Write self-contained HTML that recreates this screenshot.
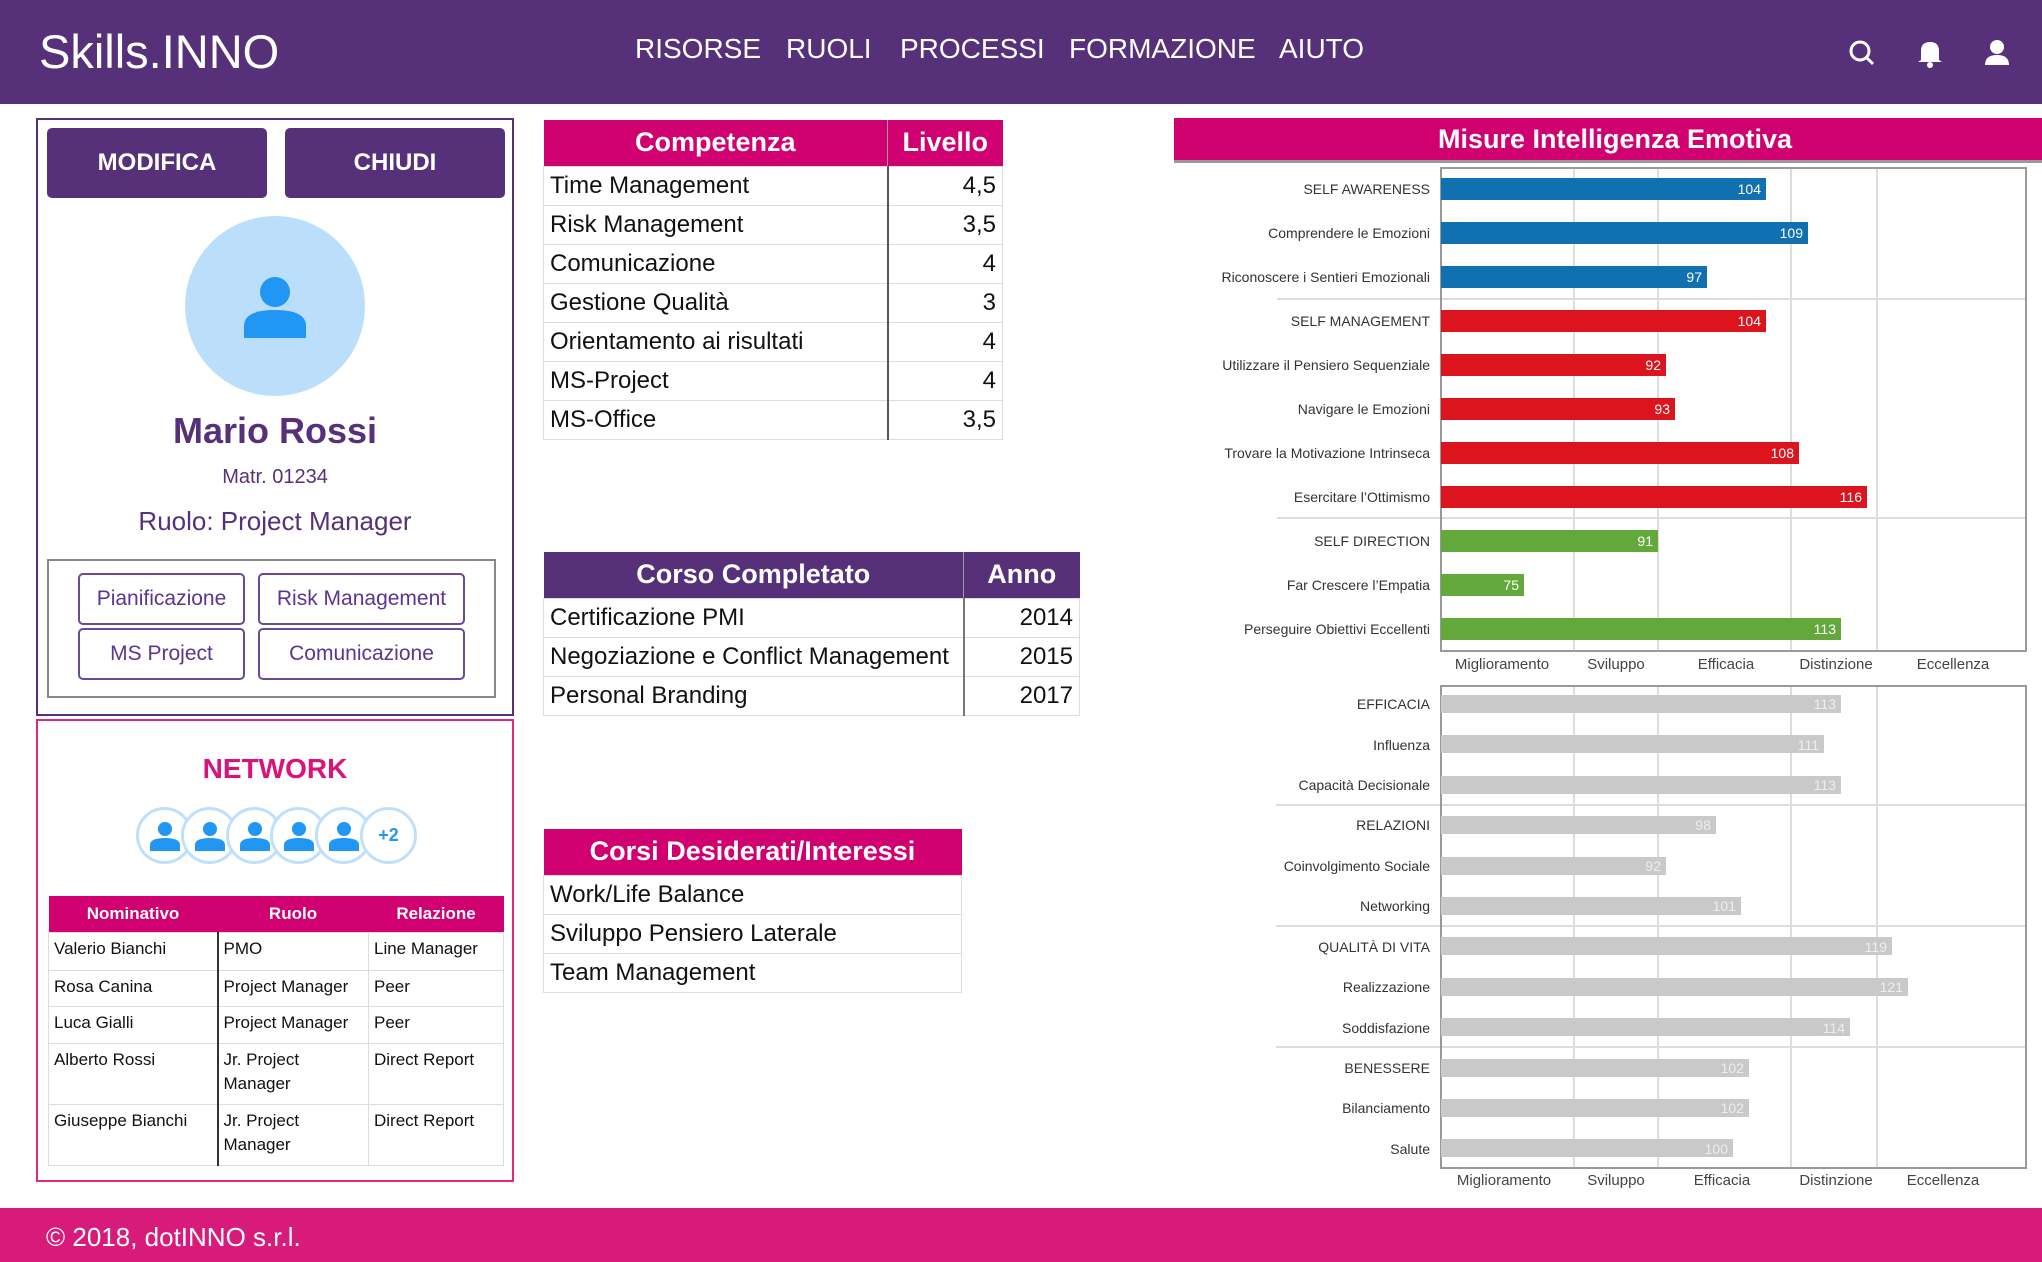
<!DOCTYPE html>
<html><head><meta charset="utf-8"><style>
*{margin:0;padding:0;box-sizing:border-box}
body{width:2042px;height:1262px;position:relative;background:#fff;font-family:"Liberation Sans",sans-serif;overflow:hidden}
.a{position:absolute}
.hdr{left:0;top:0;width:2042px;height:104px;background:#56317a}
.nav{color:#fff;font-size:28px;top:33px}
.btn{background:#56317a;color:#fff;font-weight:bold;font-size:24px;border-radius:5px;display:flex;align-items:center;justify-content:center}
.tag{border:2px solid #6a4a94;border-radius:5px;color:#5b3590;font-size:21px;display:flex;align-items:center;justify-content:center}
table{border-collapse:collapse;position:absolute}
td,th{border:1px solid #ddd}
.t td{font-size:24px;height:39px;padding:0 6px;color:#111}
.t th{color:#fff;font-size:27px;height:46px;font-weight:bold;border:none}
.n td{font-size:17px;padding:4px 5px;vertical-align:top;color:#111;line-height:24px}
.n th{background:#d10070;color:#fff;font-size:17px;height:36px;border:none}
.av{width:57px;height:57px;border-radius:50%;border:3px solid #bfe0fb;background:#fff;display:flex;align-items:center;justify-content:center;top:807px}
</style></head><body>
<div class="a hdr"></div>
<div class="a" style="left:39px;top:24px;font-size:47px;color:#fff">Skills.INNO</div>
<div class="a nav" style="left:635px">RISORSE</div>
<div class="a nav" style="left:786px">RUOLI</div>
<div class="a nav" style="left:900px">PROCESSI</div>
<div class="a nav" style="left:1069px">FORMAZIONE</div>
<div class="a nav" style="left:1279px">AIUTO</div>
<svg class="a" style="left:1846px;top:38px" width="170" height="30">
<circle cx="14" cy="13" r="9" fill="none" stroke="#fff" stroke-width="3"/><line x1="21" y1="20" x2="27" y2="26" stroke="#fff" stroke-width="3"/>
<path d="M75 22 L75 13 Q75 4 84 4 Q93 4 93 13 L93 22 L96 24 L72 24 Z" fill="#fff"/><circle cx="84" cy="27" r="3" fill="#fff"/>
<circle cx="151" cy="9" r="7" fill="#fff"/><path d="M139 27 Q139 17 151 17 Q163 17 163 27 Z" fill="#fff"/>
</svg>

<div class="a" style="left:36px;top:118px;width:478px;height:598px;border:2px solid #56317a"></div>
<div class="a btn" style="left:47px;top:128px;width:220px;height:70px">MODIFICA</div>
<div class="a btn" style="left:285px;top:128px;width:220px;height:70px">CHIUDI</div>
<div class="a" style="left:185px;top:216px;width:180px;height:180px;border-radius:50%;background:#bbdffb"></div>
<svg class="a" style="left:244px;top:276px" width="62" height="62"><circle cx="31" cy="16" r="15" fill="#2196f3"/><path d="M0 62 L0 50 Q0 34 31 34 Q62 34 62 50 L62 62 Z" fill="#2196f3"/></svg>
<div class="a" style="left:36px;width:478px;top:410px;text-align:center;font-size:36px;font-weight:bold;color:#56317a">Mario Rossi</div>
<div class="a" style="left:36px;width:478px;top:466px;text-align:center;font-size:20px;color:#56317a">Matr. 01234</div>
<div class="a" style="left:36px;width:478px;top:506px;text-align:center;font-size:26px;color:#56317a">Ruolo: Project Manager</div>
<div class="a" style="left:47px;top:559px;width:449px;height:139px;border:2px solid #888"></div>
<div class="a tag" style="left:78px;top:573px;width:167px;height:52px">Pianificazione</div>
<div class="a tag" style="left:258px;top:573px;width:207px;height:52px">Risk Management</div>
<div class="a tag" style="left:78px;top:628px;width:167px;height:52px">MS Project</div>
<div class="a tag" style="left:258px;top:628px;width:207px;height:52px">Comunicazione</div>

<div class="a" style="left:36px;top:719px;width:478px;height:463px;border:2px solid #e0287f"></div>
<div class="a" style="left:36px;width:478px;top:753px;text-align:center;font-size:28px;font-weight:bold;color:#d8137a">NETWORK</div>
<div class="a av" style="left:136px"><svg width="30" height="30"><circle cx="15" cy="8" r="7" fill="#2196f3"/><path d="M0 30 L0 24 Q0 17 15 17 Q30 17 30 24 L30 30Z" fill="#2196f3"/></svg></div>
<div class="a av" style="left:181px"><svg width="30" height="30"><circle cx="15" cy="8" r="7" fill="#2196f3"/><path d="M0 30 L0 24 Q0 17 15 17 Q30 17 30 24 L30 30Z" fill="#2196f3"/></svg></div>
<div class="a av" style="left:226px"><svg width="30" height="30"><circle cx="15" cy="8" r="7" fill="#2196f3"/><path d="M0 30 L0 24 Q0 17 15 17 Q30 17 30 24 L30 30Z" fill="#2196f3"/></svg></div>
<div class="a av" style="left:270px"><svg width="30" height="30"><circle cx="15" cy="8" r="7" fill="#2196f3"/><path d="M0 30 L0 24 Q0 17 15 17 Q30 17 30 24 L30 30Z" fill="#2196f3"/></svg></div>
<div class="a av" style="left:315px"><svg width="30" height="30"><circle cx="15" cy="8" r="7" fill="#2196f3"/><path d="M0 30 L0 24 Q0 17 15 17 Q30 17 30 24 L30 30Z" fill="#2196f3"/></svg></div>
<div class="a av" style="left:360px;color:#2196f3;font-weight:bold;font-size:18px">+2</div>
<table class="n" style="left:48px;top:896px;width:456px">
<tr><th style="width:169px">Nominativo</th><th style="width:151px">Ruolo</th><th>Relazione</th></tr>
<tr style="height:38px"><td>Valerio Bianchi</td><td style="border-left:2px solid #333">PMO</td><td>Line Manager</td></tr>
<tr style="height:36px"><td>Rosa Canina</td><td style="border-left:2px solid #333">Project Manager</td><td>Peer</td></tr>
<tr style="height:37px"><td>Luca Gialli</td><td style="border-left:2px solid #333">Project Manager</td><td>Peer</td></tr>
<tr style="height:61px"><td>Alberto Rossi</td><td style="border-left:2px solid #333">Jr. Project Manager</td><td>Direct Report</td></tr>
<tr style="height:61px"><td>Giuseppe Bianchi</td><td style="border-left:2px solid #333">Jr. Project Manager</td><td>Direct Report</td></tr>
</table>

<table class="t" style="left:543px;top:120px;width:460px">
<tr style="background:#d10070"><th style="width:344px">Competenza</th><th style="border-left:1px solid #999">Livello</th></tr>
<tr><td>Time Management</td><td style="text-align:right;border-left:2px solid #555">4,5</td></tr>
<tr><td>Risk Management</td><td style="text-align:right;border-left:2px solid #555">3,5</td></tr>
<tr><td>Comunicazione</td><td style="text-align:right;border-left:2px solid #555">4</td></tr>
<tr><td>Gestione Qualità</td><td style="text-align:right;border-left:2px solid #555">3</td></tr>
<tr><td>Orientamento ai risultati</td><td style="text-align:right;border-left:2px solid #555">4</td></tr>
<tr><td>MS-Project</td><td style="text-align:right;border-left:2px solid #555">4</td></tr>
<tr><td>MS-Office</td><td style="text-align:right;border-left:2px solid #555">3,5</td></tr>
</table>
<table class="t" style="left:543px;top:552px;width:537px">
<tr style="background:#56317a"><th style="width:420px">Corso Completato</th><th style="border-left:1px solid #999">Anno</th></tr>
<tr><td>Certificazione PMI</td><td style="text-align:right;border-left:2px solid #777">2014</td></tr>
<tr><td>Negoziazione e Conflict Management</td><td style="text-align:right;border-left:2px solid #777">2015</td></tr>
<tr><td>Personal Branding</td><td style="text-align:right;border-left:2px solid #777">2017</td></tr>
</table>
<table class="t" style="left:543px;top:829px;width:419px">
<tr style="background:#d10070"><th>Corsi Desiderati/Interessi</th></tr>
<tr><td>Work/Life Balance</td></tr>
<tr><td>Sviluppo Pensiero Laterale</td></tr>
<tr><td>Team Management</td></tr>
</table>

<div class="a" style="left:1174px;top:118px;width:868px;height:45px;background:#d10070;border-bottom:3px solid #999;color:#fff;font-weight:bold;font-size:27px;text-align:center;line-height:42px;padding-left:14px">Misure Intelligenza Emotiva</div>

<svg class="a" style="left:0;top:0" width="2042" height="1262" font-family="Liberation Sans, sans-serif">
<g stroke="#ddd" stroke-width="2">
<line x1="1574" y1="168" x2="1574" y2="651"/><line x1="1658" y1="168" x2="1658" y2="651"/><line x1="1791" y1="168" x2="1791" y2="651"/><line x1="1877" y1="168" x2="1877" y2="651"/>
<line x1="1277" y1="299" x2="2025" y2="299"/><line x1="1277" y1="518" x2="2025" y2="518"/>
<line x1="1574" y1="686" x2="1574" y2="1168"/><line x1="1658" y1="686" x2="1658" y2="1168"/><line x1="1791" y1="686" x2="1791" y2="1168"/><line x1="1877" y1="686" x2="1877" y2="1168"/>
<line x1="1276" y1="805" x2="2025" y2="805"/><line x1="1276" y1="926" x2="2025" y2="926"/><line x1="1276" y1="1047" x2="2025" y2="1047"/>
</g>
<rect x="1441" y="168" width="585" height="483" fill="none" stroke="#999" stroke-width="2"/>
<rect x="1441" y="686" width="585" height="482" fill="none" stroke="#999" stroke-width="2"/>
<g font-size="14" fill="#333" text-anchor="end">
<text x="1430" y="194">SELF AWARENESS</text><text x="1430" y="238">Comprendere le Emozioni</text><text x="1430" y="282">Riconoscere i Sentieri Emozionali</text>
<text x="1430" y="326">SELF MANAGEMENT</text><text x="1430" y="370">Utilizzare il Pensiero Sequenziale</text><text x="1430" y="414">Navigare le Emozioni</text>
<text x="1430" y="458">Trovare la Motivazione Intrinseca</text><text x="1430" y="502">Esercitare l’Ottimismo</text><text x="1430" y="546">SELF DIRECTION</text>
<text x="1430" y="590">Far Crescere l’Empatia</text><text x="1430" y="634">Perseguire Obiettivi Eccellenti</text>
<text x="1430" y="709">EFFICACIA</text><text x="1430" y="750">Influenza</text><text x="1430" y="790">Capacità Decisionale</text>
<text x="1430" y="830">RELAZIONI</text><text x="1430" y="871">Coinvolgimento Sociale</text><text x="1430" y="911">Networking</text>
<text x="1430" y="952">QUALITÀ DI VITA</text><text x="1430" y="992">Realizzazione</text><text x="1430" y="1033">Soddisfazione</text>
<text x="1430" y="1073">BENESSERE</text><text x="1430" y="1113">Bilanciamento</text><text x="1430" y="1154">Salute</text>
</g>
<g>
<rect x="1441" y="178" width="325" height="22" fill="#1170b0"/><rect x="1441" y="222" width="367" height="22" fill="#1170b0"/><rect x="1441" y="266" width="266" height="22" fill="#1170b0"/>
<rect x="1441" y="310" width="325" height="22" fill="#dc141e"/><rect x="1441" y="354" width="225" height="22" fill="#dc141e"/><rect x="1441" y="398" width="234" height="22" fill="#dc141e"/>
<rect x="1441" y="442" width="358" height="22" fill="#dc141e"/><rect x="1441" y="486" width="426" height="22" fill="#dc141e"/>
<rect x="1441" y="530" width="217" height="22" fill="#63a83a"/><rect x="1441" y="574" width="83" height="22" fill="#63a83a"/><rect x="1441" y="618" width="400" height="22" fill="#63a83a"/>
</g>
<g font-size="14" fill="#fff" text-anchor="end">
<text x="1761" y="194">104</text><text x="1803" y="238">109</text><text x="1702" y="282">97</text>
<text x="1761" y="326">104</text><text x="1661" y="370">92</text><text x="1670" y="414">93</text>
<text x="1794" y="458">108</text><text x="1862" y="502">116</text><text x="1653" y="546">91</text>
<text x="1519" y="590">75</text><text x="1836" y="634">113</text>
</g>
<g fill="#c9c9c9">
<rect x="1441" y="695" width="400" height="18"/><rect x="1441" y="735" width="383" height="18"/><rect x="1441" y="776" width="400" height="18"/>
<rect x="1441" y="816" width="275" height="18"/><rect x="1441" y="857" width="225" height="18"/><rect x="1441" y="897" width="300" height="18"/>
<rect x="1441" y="937" width="451" height="18"/><rect x="1441" y="978" width="467" height="18"/><rect x="1441" y="1018" width="409" height="18"/>
<rect x="1441" y="1059" width="308" height="18"/><rect x="1441" y="1099" width="308" height="18"/><rect x="1441" y="1139" width="292" height="18"/>
</g>
<g font-size="14" fill="#eee" text-anchor="end">
<text x="1836" y="709">113</text><text x="1819" y="750">111</text><text x="1836" y="790">113</text>
<text x="1711" y="830">98</text><text x="1661" y="871">92</text><text x="1736" y="911">101</text>
<text x="1887" y="952">119</text><text x="1903" y="992">121</text><text x="1845" y="1033">114</text>
<text x="1744" y="1073">102</text><text x="1744" y="1113">102</text><text x="1728" y="1154">100</text>
</g>
<g font-size="15" fill="#444" text-anchor="middle">
<text x="1502" y="669">Miglioramento</text><text x="1616" y="669">Sviluppo</text><text x="1726" y="669">Efficacia</text><text x="1836" y="669">Distinzione</text><text x="1953" y="669">Eccellenza</text>
<text x="1504" y="1185">Miglioramento</text><text x="1616" y="1185">Sviluppo</text><text x="1722" y="1185">Efficacia</text><text x="1836" y="1185">Distinzione</text><text x="1943" y="1185">Eccellenza</text>
</g>
</svg>

<div class="a" style="left:0;top:1208px;width:2042px;height:54px;background:#d81b7a"></div>
<div class="a" style="left:46px;top:1222px;font-size:26px;color:#fff">© 2018, dotINNO s.r.l.</div>
</body></html>
